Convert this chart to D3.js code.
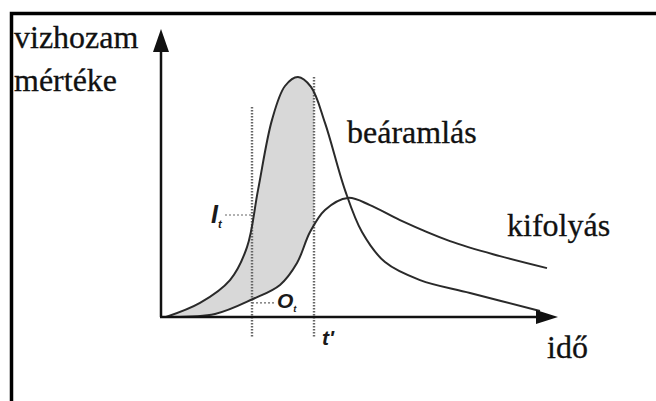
<!DOCTYPE html>
<html>
<head>
<meta charset="utf-8">
<script src="https://cdn.jsdelivr.net/npm/d3@7"></script>
<style>
  html, body { margin: 0; padding: 0; background: #fff; }
  svg { display: block; }
</style>
</head>
<body>
<svg id="chart" width="656" height="401"></svg>
<script>
// Hydrograph: inflow (beáramlás) vs outflow (kifolyás)
const width = 656, height = 401;
const svg = d3.select("#chart");

// time (0..100) and discharge (0..96)
const inflowT = [1.25, 9.75, 17.25, 21.5, 24.25, 27.75, 31, 34.25, 37.5, 41, 46, 50.25, 56, 64.75, 77.25, 94.75];
const inflowQ = [0, 4.7, 12.3, 23.3, 42.3, 65.7, 77, 80, 76.7, 64.7, 42.3, 28.3, 18.3, 12.3, 8, 2];

const outflowT = [1.75, 13.5, 23, 29.75, 34, 37.25, 41, 46.75, 52.25, 59.75, 72.25, 84.75, 96.5];
const outflowQ = [0, 1, 6, 10.7, 18, 28.3, 35.7, 39.7, 37.3, 32.3, 25.3, 20.3, 16.3];

// marker times and levels
const tI = 22.75, tPrime = 38.25;
const levelI = 34, levelO = 4.7;

const axisLabels = ["vizhozam", "mértéke"];
const xLabel = "idő";
const seriesLabels = ["beáramlás", "kifolyás"];

const x = d3.scaleLinear().domain([0, 100]).range([161, 561]);
const y = d3.scaleLinear().domain([0, 96]).range([317, 29]);

const inflow = inflowT.map((t, i) => [t, inflowQ[i]]);
const outflow = outflowT.map((t, i) => [t, outflowQ[i]]);

const line = d3.line()
  .x(d => x(d[0]))
  .y(d => y(d[1]))
  .curve(d3.curveCatmullRom.alpha(0.5));

// frame (cropped on right and bottom)
svg.append("rect")
  .attr("x", 11.5).attr("y", 13.5)
  .attr("width", 700).attr("height", 500)
  .attr("fill", "none")
  .attr("stroke", "#000")
  .attr("stroke-width", 3.5);

// shaded storage area: under inflow, above outflow, left of t'
svg.append("clipPath").attr("id", "clip")
  .append("rect")
  .attr("x", x(0)).attr("y", 0)
  .attr("width", x(tPrime) - x(0)).attr("height", y(0));

svg.append("clipPath").attr("id", "clipOut")
  .append("path")
  .attr("d", line(outflow) + `L${x(100)},${y(0) + 5}L${x(100)},0L${x(0)},0L${x(0)},${y(0)}Z`);

const area = d3.area()
  .x(d => x(d[0]))
  .y0(y(0))
  .y1(d => y(d[1]))
  .curve(d3.curveCatmullRom.alpha(0.5));

svg.append("g")
  .attr("clip-path", "url(#clip)")
  .append("path")
  .attr("d", area(inflow))
  .attr("fill", "#d8d8d8")
  .attr("clip-path", "url(#clipOut)");

// dotted verticals
const dotted = [[tI, 70], [tPrime, 80]];
svg.selectAll(".vdot")
  .data(dotted)
  .enter().append("line")
  .attr("x1", d => x(d[0])).attr("x2", d => x(d[0]))
  .attr("y1", d => y(d[1])).attr("y2", y(-6.7))
  .attr("stroke", "#666")
  .attr("stroke-width", 2.4)
  .attr("stroke-dasharray", "1.5,1.5");

// dashed level ticks
svg.append("line")
  .attr("x1", x(tI) - 27).attr("x2", x(tI))
  .attr("y1", y(levelI)).attr("y2", y(levelI))
  .attr("stroke", "#666").attr("stroke-width", 1.2)
  .attr("stroke-dasharray", "2,2");
svg.append("line")
  .attr("x1", x(tI)).attr("x2", x(tI) + 24)
  .attr("y1", y(levelO)).attr("y2", y(levelO))
  .attr("stroke", "#666").attr("stroke-width", 1.2)
  .attr("stroke-dasharray", "2,2");

// curves
[inflow, outflow].forEach(s => {
  svg.append("path")
    .attr("d", line(s))
    .attr("fill", "none")
    .attr("stroke", "#2a2a2a")
    .attr("stroke-width", 2);
});

// axes with arrows
const ax = "#111";
svg.append("line")
  .attr("x1", x(0)).attr("y1", y(0))
  .attr("x2", x(0)).attr("y2", 50)
  .attr("stroke", ax).attr("stroke-width", 2.5);
svg.append("path")
  .attr("d", `M${x(0)},${y(96)} L${x(0) - 8},52 L${x(0) + 8},52 Z`)
  .attr("fill", ax);
svg.append("line")
  .attr("x1", x(0) - 1).attr("y1", y(0))
  .attr("x2", 538).attr("y2", y(0))
  .attr("stroke", ax).attr("stroke-width", 2.5);
svg.append("path")
  .attr("d", `M558,${y(0)} L536,${y(0) - 7} L536,${y(0) + 7} Z`)
  .attr("fill", ax);

// serif labels
const txt = (s, px, py) => svg.append("text")
  .attr("x", px).attr("y", py)
  .style("font-family", "'Liberation Serif', 'Times New Roman', serif")
  .attr("font-size", 32)
  .attr("fill", "#111")
  .attr("stroke", "#111")
  .attr("stroke-width", 0.3)
  .text(s);

txt(axisLabels[0], 14, 48);
txt(axisLabels[1], 14, 91);
txt(seriesLabels[0], 347, 143);
txt(seriesLabels[1], 507, 236);
txt(xLabel, 547, 358);

// bold italic symbols
const sym = (s, sub, px, py, fs) => {
  const t = svg.append("text")
    .attr("x", px).attr("y", py)
    .style("font-family", "'Liberation Sans', Arial, sans-serif")
    .attr("font-weight", "bold")
    .attr("font-style", "italic")
    .attr("font-size", fs)
    .attr("fill", "#1a1a1a")
    .text(s);
  if (sub) t.append("tspan")
    .attr("font-size", fs * 0.45)
    .attr("dy", fs * 0.2)
    .text(sub);
};
sym("I", "t", 211, 223, 25);
sym("O", "t", 277, 308, 21);
sym("t'", null, 322, 345, 21);
</script>
</body>
</html>
